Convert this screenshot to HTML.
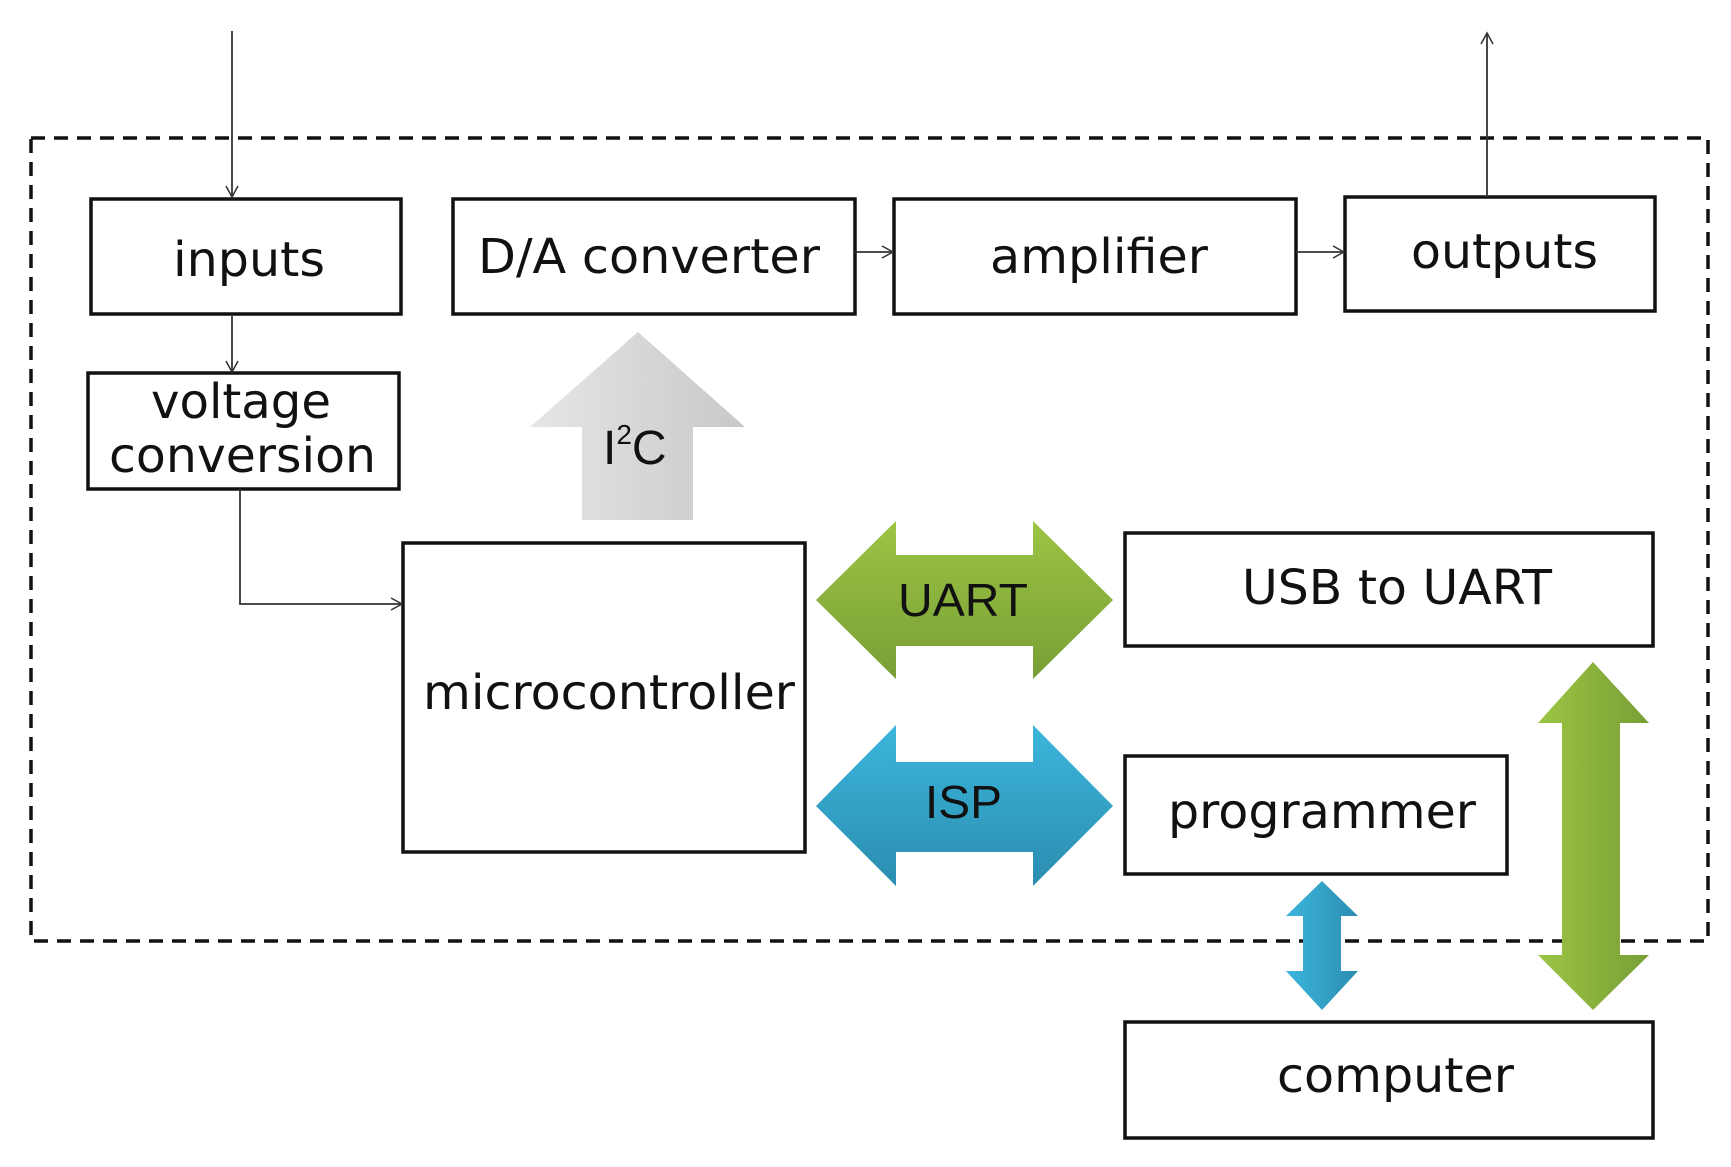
<!DOCTYPE html>
<html><head><meta charset="utf-8"><style>html,body{margin:0;padding:0;background:#fff;overflow:hidden}svg{display:block}</style></head>
<body>
<svg width="1731" height="1167" viewBox="0 0 1731 1167" xmlns="http://www.w3.org/2000/svg">
<defs>
<linearGradient id="gr" x1="0" y1="0" x2="1" y2="0"><stop offset="0" stop-color="#e6e6e6"/><stop offset="1" stop-color="#c8c8c8"/></linearGradient>
<linearGradient id="gn" x1="0" y1="0" x2="0" y2="1"><stop offset="0" stop-color="#9cc444"/><stop offset="1" stop-color="#789f35"/></linearGradient>
<linearGradient id="gnv" x1="0" y1="0" x2="1" y2="0"><stop offset="0" stop-color="#9cc444"/><stop offset="1" stop-color="#789f35"/></linearGradient>
<linearGradient id="bl" x1="0" y1="0" x2="0" y2="1"><stop offset="0" stop-color="#3cb6dc"/><stop offset="1" stop-color="#2b8db0"/></linearGradient>
<linearGradient id="blv" x1="0" y1="0" x2="1" y2="0"><stop offset="0" stop-color="#3cb6dc"/><stop offset="1" stop-color="#2b8db0"/></linearGradient>
<marker id="ah" markerWidth="14" markerHeight="14" refX="12" refY="7" orient="auto" markerUnits="userSpaceOnUse"><path d="M1,1 L12,7 L1,13" fill="none" stroke="#333" stroke-width="1.5"/></marker>
</defs>
<rect x="31" y="138" width="1677" height="803" fill="none" stroke="#111" stroke-width="3.5" stroke-dasharray="14,9"/>
<g fill="#fff" stroke="#111" stroke-width="3.5">
<rect x="91" y="199" width="310" height="115"/>
<rect x="453" y="199" width="402" height="115"/>
<rect x="894" y="199" width="402" height="115"/>
<rect x="1345" y="197" width="310" height="114"/>
<rect x="88" y="373" width="311" height="116"/>
<rect x="403" y="543" width="402" height="309"/>
<rect x="1125" y="533" width="528" height="113"/>
<rect x="1125" y="756" width="382" height="118"/>
<rect x="1125" y="1022" width="528" height="116"/>
</g>
<g stroke="#333" stroke-width="1.8" fill="none" marker-end="url(#ah)">
<path d="M232,31 V197"/>
<path d="M232,314 V372"/>
<path d="M240,489 V604 H402"/>
<path d="M855,252 H893"/>
<path d="M1296,252 H1344"/>
<path d="M1487,197 V33"/>
</g>
<polygon points="638,332 745,427 693,427 693,520 582,520 582,427 530,427" fill="url(#gr)"/>
<polygon points="816,600 896,521 896,555 1033,555 1033,521 1113,600 1033,679 1033,646 896,646 896,679" fill="url(#gn)"/>
<polygon points="816,806 896,725 896,762 1033,762 1033,725 1113,806 1033,886 1033,852 896,852 896,886" fill="url(#bl)"/>
<polygon points="1322,881 1358,916 1341,916 1341,971 1358,971 1322,1010 1286,971 1303,971 1303,916 1286,916" fill="url(#blv)"/>
<polygon points="1593,662 1649,723 1620,723 1620,955 1649,955 1593,1010 1538,955 1562,955 1562,723 1538,723" fill="url(#gnv)"/>
<g font-family="DejaVu Sans, 'Liberation Sans', sans-serif" font-size="48" fill="#111">
<text x="173" y="276" textLength="152" lengthAdjust="spacingAndGlyphs">inputs</text>
<text x="478" y="273" textLength="342" lengthAdjust="spacingAndGlyphs">D/A converter</text>
<text x="990" y="273" textLength="218" lengthAdjust="spacingAndGlyphs">amplifier</text>
<text x="1411" y="268" textLength="187" lengthAdjust="spacingAndGlyphs">outputs</text>
<text x="151" y="418" textLength="180" lengthAdjust="spacingAndGlyphs">voltage</text>
<text x="109" y="472" textLength="267" lengthAdjust="spacingAndGlyphs">conversion</text>
<text x="423" y="709" textLength="372" lengthAdjust="spacingAndGlyphs">microcontroller</text>
<text x="1242" y="604" textLength="310" lengthAdjust="spacingAndGlyphs">USB to UART</text>
<text x="1168" y="828" textLength="308" lengthAdjust="spacingAndGlyphs">programmer</text>
<text x="1277" y="1092" textLength="237" lengthAdjust="spacingAndGlyphs">computer</text>
</g>
<g font-family="'Liberation Sans', sans-serif" fill="#111">
<text x="898" y="616" font-size="46" textLength="130" lengthAdjust="spacingAndGlyphs">UART</text>
<text x="925" y="818" font-size="46" textLength="77" lengthAdjust="spacingAndGlyphs">ISP</text>
<text x="603" y="464" font-size="48">I<tspan font-size="28" dy="-20">2</tspan><tspan dy="20">C</tspan></text>
</g>
</svg>
</body></html>
